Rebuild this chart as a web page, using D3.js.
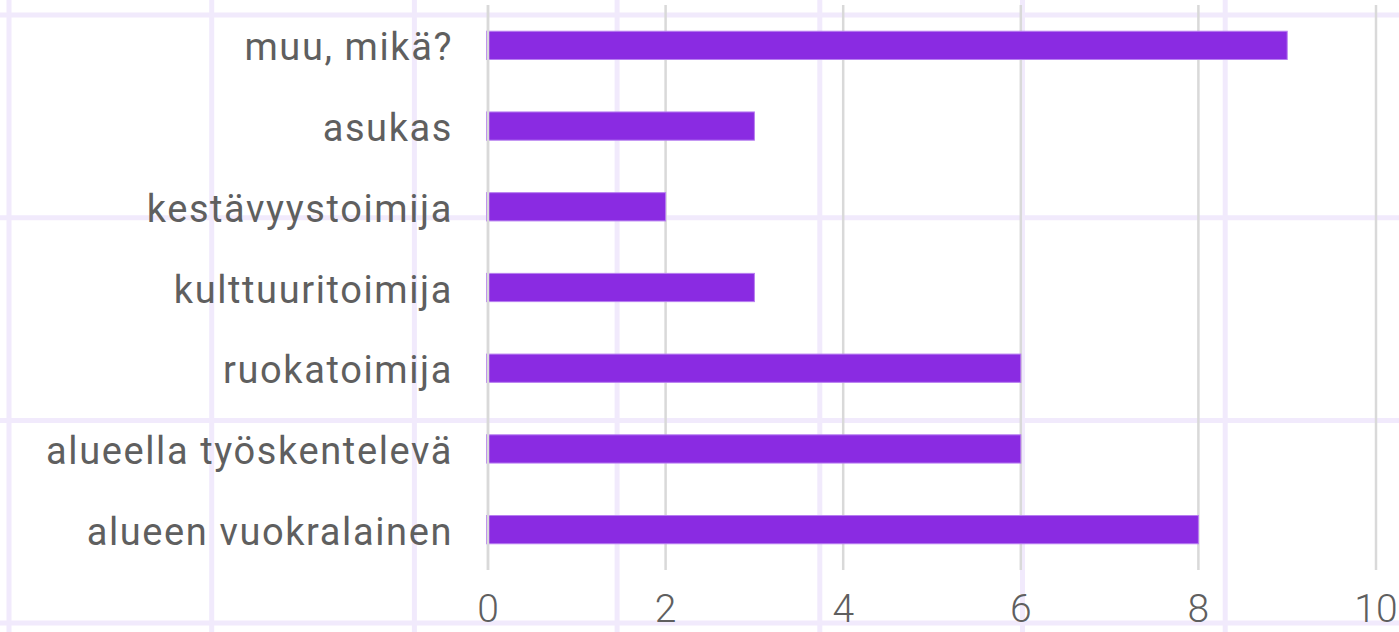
<!DOCTYPE html>
<html><head><meta charset="utf-8">
<script src="https://cdn.jsdelivr.net/npm/d3@7"></script>
<style>
html,body{margin:0;padding:0;background:#fff;}
svg{display:block;}
text{font-family:Roboto, "Noto Sans", sans-serif;fill:#5f5f5f;}
</style></head>
<body>
<svg id="chart" width="1399" height="632"></svg>
<script>
const categories = ["muu, mikä?","asukas","kestävyystoimija","kulttuuritoimija","ruokatoimija","alueella työskentelevä","alueen vuokralainen"];
const values = [9,3,2,3,6,6,8];
const xTicks = [0,2,4,6,8,10];

const W = 1399, H = 632;
const svg = d3.select("#chart");

// decorative lavender background grid
const bgStep = 202.7;
const bg = svg.append("g");
d3.range(9, W + 5, bgStep).forEach(x => bg.append("line").attr("x1", x).attr("x2", x).attr("y1", 0).attr("y2", H).attr("stroke", "#f1eafc").attr("stroke-width", 5));
d3.range(15, H + 5, bgStep).forEach(y => bg.append("line").attr("x1", 0).attr("x2", W).attr("y1", y).attr("y2", y).attr("stroke", "#f1eafc").attr("stroke-width", 5));

const x = d3.scaleLinear().domain([0, 10]).range([488, 1376]);
const y = d3.scaleBand().domain(categories).range([5, 570]).paddingInner(0.65).paddingOuter(0.325);

// gridlines
svg.append("g").selectAll("line").data(xTicks).join("line")
  .attr("x1", d => x(d)).attr("x2", d => x(d)).attr("y1", 5).attr("y2", 570)
  .attr("stroke", "#d9d9d9").attr("stroke-width", 2.5);

// bars
svg.append("g").selectAll("rect").data(values).join("rect")
  .attr("x", x(0) - 1.5).attr("y", (d, i) => y(categories[i]))
  .attr("width", d => x(d) - x(0) + 1.5).attr("height", y.bandwidth())
  .attr("fill", "#8a2be2").attr("stroke", "#b77ef0").attr("stroke-width", 1);

// zero line on top
svg.append("line").attr("x1", x(0)).attr("x2", x(0)).attr("y1", 5).attr("y2", 570)
  .attr("stroke", "#d9d9d9").attr("stroke-width", 2.5);

// category labels
svg.append("g").selectAll("text").data(categories).join("text")
  .attr("x", 453).attr("y", d => y(d) + y.bandwidth() / 2 + 15)
  .attr("text-anchor", "end").attr("font-size", 38).attr("letter-spacing", 1.6)
  .text(d => d);

// x tick labels
svg.append("g").selectAll("text").data(xTicks).join("text")
  .attr("x", d => x(d)).attr("y", 622)
  .attr("text-anchor", "middle").attr("font-size", 39).attr("font-weight", 300)
  .text(d => d);
</script>
</body></html>
